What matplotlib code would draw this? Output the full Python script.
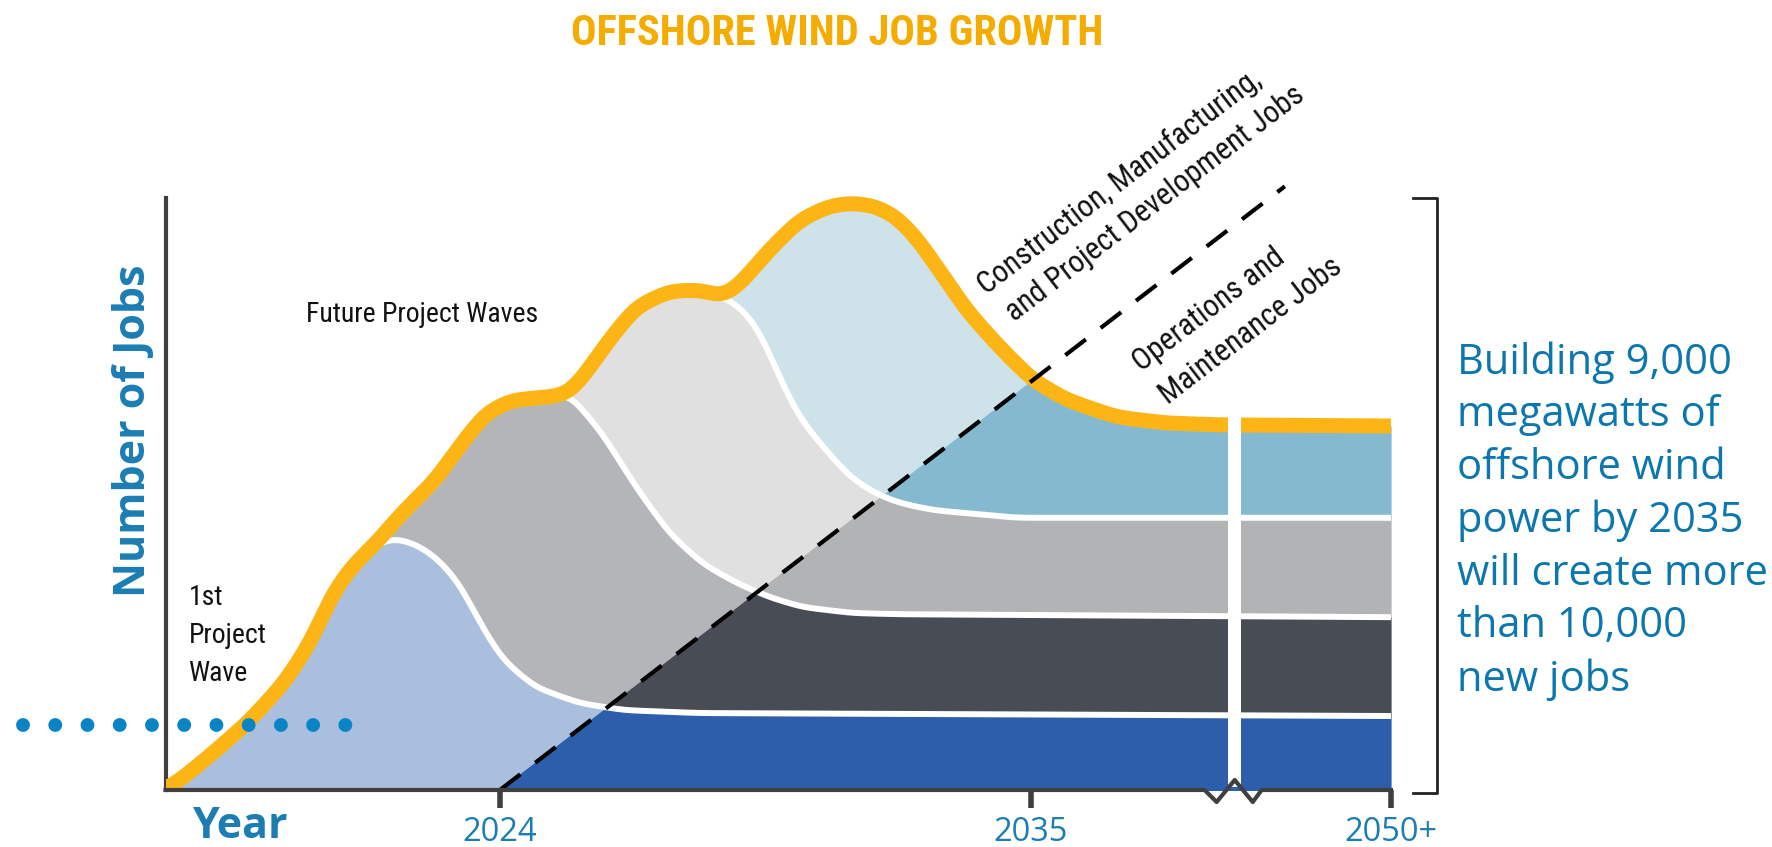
import numpy as np
import matplotlib
matplotlib.use("Agg")
import matplotlib.pyplot as plt
from matplotlib import font_manager
from matplotlib.patches import Polygon

# cumulative top of each project wave (year, job index 0-100)
wave1_years = [2017.07, 2017.34, 2017.96, 2018.79, 2019.54, 2020.08, 2020.55, 2021.01, 2021.38, 2021.76,
               2022.22, 2022.67, 2023.15, 2023.61, 2024.06, 2024.73, 2025.64, 2026.57, 2028.13, 2042.47]
wave1_jobs = [0, 1.5, 5.6, 11.5, 18.2, 25.0, 33.5, 38.5, 41.2, 42.6,
              41.7, 39.4, 35.1, 27.9, 22.0, 17.4, 14.7, 13.5, 13.0, 12.5]

wave2_years = [2021.38, 2021.97, 2022.67, 2023.21, 2023.71, 2024.25, 2025.02, 2025.43, 2026.12,
               2026.82, 2027.51, 2028.19, 2028.90, 2029.58, 2030.27, 2031.31, 2032.28, 2042.47]
wave2_jobs = [41.2, 46.8, 52.4, 58.6, 63.7, 65.9, 66.4, 67.0, 60.3,
              51.2, 43.4, 38.3, 35.0, 32.6, 30.9, 29.9, 29.7, 29.2]

wave3_years = [2025.43, 2025.78, 2026.26, 2026.82, 2027.51, 2028.19, 2028.59, 2028.86, 2029.27, 2029.58,
               2029.94, 2030.27, 2030.72, 2031.24, 2031.76, 2032.28, 2032.97, 2034.71, 2042.47]
wave3_jobs = [67.0, 70.4, 76.0, 81.6, 84.3, 84.5, 83.3, 82.4, 79.1, 74.0,
              67.1, 62.2, 57.8, 53.0, 50.2, 48.5, 47.3, 46.0, 46.0]

wave4_years = [2028.59, 2028.96, 2029.52, 2030.21, 2030.83, 2031.31, 2031.76, 2032.18, 2032.63,
               2033.11, 2033.67, 2034.36, 2035.04, 2035.75, 2036.79, 2037.82, 2038.92, 2042.47]
wave4_jobs = [83.3, 85.3, 90.7, 96.3, 98.7, 99.2, 98.7, 97.1, 93.4,
              87.8, 81.1, 74.8, 69.3, 65.9, 63.0, 62.0, 61.7, 61.5]

# split between construction jobs (upper left) and O&M jobs (lower right)
split_years = [2024, 2040.27]
split_jobs = [0, 102.0]

current_level = 11.0
dots_span = [2014.11, 2020.82]
break_year = 2039.23

tick_years = [2024, 2035, 2042.47]
tick_labels = ['2024', '2035', '2050+']

light = ['#A9BFDD', '#B4B5B8', '#E0E0E0', '#CEE2EA']
dark = ['#2C5EAB', '#474C55', '#B2B3B5', '#85B9CF']
ORANGE = '#FDB515'
BLUE = '#1C7DB3'
AXIS = '#3F3F3F'
INK = '#111111'

plt.rcParams['font.family'] = ['Open Sans', 'DejaVu Sans']

# look for a narrow face for the condensed labels
narrow, stretch = 'Roboto', 'normal'
entries = [(f.name, f.stretch) for f in font_manager.fontManager.ttflist]
found = [e for e in entries if 'Narrow' in e[0] or 'Condensed' in e[0]
         or e[1] in ('condensed', 'semi-condensed', 'extra-condensed', 'ultra-condensed')]
for pref in ['Liberation Sans Narrow', 'Roboto Condensed', 'Open Sans Condensed',
             'Noto Sans Condensed', 'Noto Sans ExtraCondensed', 'Noto Sans', 'Roboto', 'DejaVu Sans Condensed',
             'DejaVu Sans']:
    hit = [e for e in found if e[0] == pref]
    if hit:
        narrow, stretch = hit[0]
        break
else:
    if found:
        narrow, stretch = found[0]


def smooth(y, sigma):
    k = np.arange(-3 * sigma, 3 * sigma + 1)
    w = np.exp(-0.5 * (k / sigma) ** 2)
    w /= w.sum()
    yp = np.pad(y, len(k) // 2, mode='edge')
    return np.convolve(yp, w, mode='valid')


xx = np.linspace(2017.07, 2042.47, 2541)
raw = []
prev = np.zeros_like(xx)
for xs, ys in [(wave1_years, wave1_jobs), (wave2_years, wave2_jobs),
               (wave3_years, wave3_jobs), (wave4_years, wave4_jobs)]:
    r = np.interp(xx, xs, ys, left=np.nan)
    r = np.where(np.isnan(r), prev, np.maximum(r, prev))
    raw.append(r)
    prev = r
tops = []
prev = np.zeros_like(xx)
for r in raw:
    s = np.maximum(smooth(r, 18), prev)
    tops.append(s)
    prev = s

fig = plt.figure(figsize=(17.72, 8.47), dpi=100)
renderer = fig.canvas.get_renderer()


def size_for(s, target_px, weight='normal'):
    t = fig.text(0, 0, s, family=narrow, fontstretch=stretch, fontweight=weight, fontsize=20)
    w = t.get_window_extent(renderer).width
    t.remove()
    return 20 * target_px / w


ax = fig.add_axes([165.5 / 1772, 57 / 847, (1391 - 165.5) / 1772, 651 / 847])
ax.set_xlim(2017.07, 2042.47)
ax.set_ylim(0, 110)

slope = (split_jobs[1] - split_jobs[0]) / (split_years[1] - split_years[0])
clip = Polygon([[split_years[0], 0], [split_years[0] + 210 / slope, 210], [2100, 210],
                [2100, -20], [split_years[0], -20]], closed=True, transform=ax.transData)

lower = np.zeros_like(xx)
for i in range(4):
    ax.fill_between(xx, lower, tops[i], color=light[i], lw=0, zorder=1)
    d = ax.fill_between(xx, lower, tops[i], color=dark[i], lw=0, zorder=1.5)
    d.set_clip_path(clip)
    lower = tops[i]

for i in range(3):
    ax.plot(xx, tops[i], color='white', lw=4.3, zorder=3, solid_capstyle='butt')
ax.plot(xx, tops[3], color=ORANGE, lw=10.8, zorder=4, solid_capstyle='butt')

# gap marking the axis break
ax.axvspan(break_year - 0.14, break_year + 0.13, ymin=0.004, ymax=0.66, color='white', lw=0, zorder=5)

ax.plot(split_years, split_jobs, color='black', lw=3, dashes=(6.2, 4.5), zorder=6, clip_on=False)

# bottom axis with zigzag break
zx = [2017.07, break_year - 0.623, break_year - 0.374, break_year, break_year + 0.374,
      break_year + 0.56, 2042.47]
zy = [0, 0, -2.03, 1.69, -2.03, 0, 0]
ax.plot(zx, zy, color=AXIS, lw=3, zorder=7, clip_on=False, solid_capstyle='projecting')

for s in ['top', 'right', 'bottom']:
    ax.spines[s].set_visible(False)
ax.spines['left'].set_bounds(0, 100)
ax.spines['left'].set_linewidth(3)
ax.spines['left'].set_color(AXIS)
ax.set_yticks([])
ax.set_xticks(tick_years, tick_labels)
ax.tick_params(axis='x', length=13, width=4, color=AXIS, pad=6, labelsize=23.5, labelcolor=BLUE)

# dotted reference level
ax.plot(dots_span, [current_level, current_level], color='#0B84C6', lw=10,
        linestyle=(0, (0.001, 2.32)), dash_capstyle='round', clip_on=False, zorder=8)

# bracket on the right
ax.plot([2042.93, 2043.43, 2043.43, 2042.93], [100, 100, -0.5, -0.5],
        color='#222222', lw=2, clip_on=False)

ax.text(2043.84, 75.8, "Building 9,000\nmegawatts of\noffshore wind\npower by 2035\n"
        "will create more\nthan 10,000\nnew jobs",
        fontsize=30, color='#0B77AE', va='top', ha='left', linespacing=1.33)

# condensed annotation labels
lab = size_for("Future Project Waves", 232)
ax.text(2019.99, 79.1, "Future Project Waves", family=narrow, fontstretch=stretch,
        fontsize=lab, color=INK, va='baseline', ha='left')
for word, yb in zip(["1st", "Project", "Wave"], [31.25, 24.83, 18.41]):
    ax.text(2017.545, yb, word, family=narrow, fontstretch=stretch, fontsize=lab,
            color=INK, va='baseline', ha='left')

rot = size_for("Construction, Manufacturing,", 348)
for line, (xb, yb) in zip(["Construction, Manufacturing,", "and Project Development Jobs",
                           "Operations and", "Maintenance Jobs"],
                          [(2034.09, 83.6), (2034.67, 79.05), (2037.30, 70.6), (2037.84, 65.0)]):
    ax.text(xb, yb, line, family=narrow, fontstretch=stretch, fontsize=rot, color=INK,
            rotation=37.5, rotation_mode='anchor', ha='left', va='baseline')

fig.text(0.4724, 0.9604, "OFFSHORE WIND JOB GROWTH", family=narrow, fontstretch=stretch,
         fontweight='bold', fontsize=size_for("OFFSHORE WIND JOB GROWTH", 532, 'bold'),
         color='#F5AC00', ha='center', va='center')
fig.text(134 / 1772, (847 - 431) / 847, "Number of Jobs", fontsize=31, fontweight='bold',
         color=BLUE, rotation=90, ha='center', va='center')
fig.text(192 / 1772, (847 - 838) / 847, "Year", fontsize=31, fontweight='bold',
         color=BLUE, ha='left', va='baseline')

fig.savefig('out.png', dpi=100)
